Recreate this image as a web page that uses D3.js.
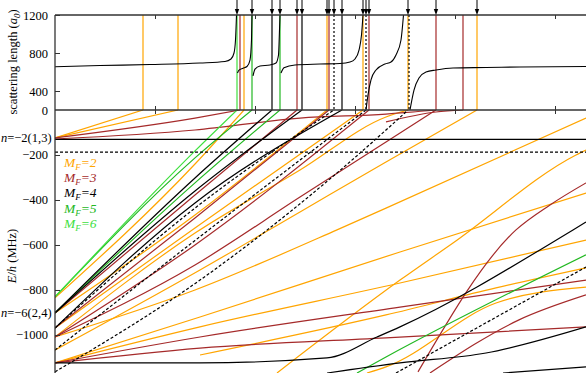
<!DOCTYPE html>
<html>
<head>
<meta charset="utf-8">
<script src="https://cdn.jsdelivr.net/npm/d3@7"></script>
<style>
  body { margin: 0; background: #fff; }
  svg { display: block; font-family: "Liberation Serif", "DejaVu Serif", serif; }
</style>
</head>
<body>
<svg id="chart" width="586" height="373"></svg>
<script>
// ticks
const fieldTicks = [100, 200, 300, 400, 500];
const lengthTicks = [400, 800, 1200];
const energyTicks = [0, -200, -400, -600, -800, -1000];

// resonance fields (G) and their M_F, top panel
const resField  = [88, 123, 182, 185, 189, 197, 217, 225, 242, 247, 272, 274, 279, 287, 308, 311, 314, 353, 354, 381, 408, 422];
const resMF     = [2, 2, 6, 3, 2, 5, 4, 5, 3, 4, 2, 3, 4, 4, 2, 4, 3, 2, 4, 3, 3, 2];
const resDotted = [0, 0, 0, 0, 0, 0, 0, 0, 0, 0, 0, 0, 1, 0, 0, 1, 0, 0, 1, 0, 0, 0];
const arrowField = [182, 197, 217, 225, 242, 247, 272, 274, 279, 287, 308, 311, 314, 353, 381, 422];

// scattering length (a0) vs field, one array per branch between poles
const scatLen = [
  [[0, 656], [45, 668], [95, 679], [145, 695], [170, 711], [176, 737], [179, 800], [180.5, 937], [181.5, 1200]],
  [[182.5, 590], [184, 620], [188, 640], [192, 658], [195, 726], [196.5, 937], [197, 1200]],
  [[198, 560], [200, 630], [205, 663], [215, 674], [221, 695], [223.5, 779], [224.5, 1042], [225, 1200]],
  [[226, 590], [229, 645], [240, 674], [265, 684], [285, 690], [295, 705], [300, 737], [304, 831], [306.5, 989], [308, 1200]],
  [[311, 200], [313, 358], [316, 516], [321, 621], [330, 684], [336, 705], [341, 779], [346, 937], [348.5, 1200]],
  [[355, 200], [359, 410], [364, 537], [371, 600], [381, 621], [398, 642], [431, 647], [465, 653], [531, 658]]
];

// bound-state energies E/h (MHz) vs field (G)
const levelsMF2 = [
  [[0, -124], [88, 0]],
  [[0, -124], [123, 0]],
  [[0, -835], [140, -240], [189, 0]],
  [[0, -902], [140, -467], [272, 0]],
  [[0, -969], [140, -524], [308, 0]],
  [[0, -1009], [140, -547], [245, -267], [331, -31], [353, 0]],
  [[0, -1067], [145, -711], [245, -453], [331, -231], [422, 0]],
  [[0, -1009], [140, -800], [282, -533], [331, -436], [531, -36]],
  [[0, -1124], [145, -920], [345, -631], [531, -369]],
  [[0, -1124], [145, -964], [345, -769], [531, -578]],
  [[222, -1169], [345, -756], [398, -591], [521, -200], [531, -178]],
  [[312, -1169], [331, -1142], [441, -858], [531, -787]],
  [[145, -1089], [331, -911], [441, -791], [531, -702]]
];
const levelsMF3 = [
  [[0, -124], [140, -36], [185, 0]],
  [[0, -129], [140, -89], [245, -36], [331, -18], [381, 0]],
  [[0, -902], [140, -378], [242, 0]],
  [[0, -969], [140, -480], [274, 0]],
  [[0, -1009], [140, -600], [314, 0]],
  [[0, -1009], [140, -689], [245, -387], [331, -142], [381, 0]],
  [[0, -1124], [145, -1009], [345, -876], [531, -756]],
  [[0, -1124], [145, -1058], [331, -1013], [531, -964]],
  [[375, -1169], [464, -933], [531, -822]],
  [[363, -1164], [461, -533], [495, -422], [531, -324]],
  [[331, -53], [381, -9], [408, 0]]
];
const levelsMF4 = [
  [[0, -131], [531, -131]],
  [[0, -902], [140, -302], [217, 0]],
  [[0, -902], [140, -360], [247, 0]],
  [[0, -969], [140, -413], [287, 0]],
  [[0, -1124], [145, -1124], [272, -1102], [322, -1009], [345, -964], [518, -533], [531, -498]],
  [[272, -1169], [345, -1124], [431, -1080], [531, -964]],
  [[448, -1169], [531, -1142]]
];
const levelsMF4dashed = [
  [[0, -187], [531, -187]],
  [[0, -969], [140, -436], [279, 0]],
  [[0, -1067], [140, -580], [311, 0]],
  [[0, -1164], [145, -756], [331, -89], [353, 0]],
  [[341, -1169], [531, -698]]
];
const levelsMF5 = [
  [[0, -831], [140, -213], [197, 0]],
  [[0, -902], [140, -324], [225, 0]],
  [[302, -1169], [331, -1098], [531, -644]]
];
const levelsMF6 = [
  [[0, -831], [140, -182], [182, 0]]
];

const mfColor = { 2: '#ffa500', 3: '#a52a2a', 4: '#000000', 5: '#22b822', 6: '#3ee03e' };
const legendMF = [2, 3, 4, 5, 6];

const svg = d3.select('#chart');
const x = d3.scaleLinear().domain([0, 531]).range([55, 586]);
const yTop = d3.scaleLinear().domain([200, 1200]).range([110, 15]);
const yLow = d3.scaleLinear().domain([-1169, 0]).range([373, 110]);

const defs = svg.append('defs');
defs.append('clipPath').attr('id', 'clipTop')
  .append('rect').attr('x', 55).attr('y', 15).attr('width', 531).attr('height', 95);
defs.append('clipPath').attr('id', 'clipLow')
  .append('rect').attr('x', 55).attr('y', 110).attr('width', 531).attr('height', 263);

// top panel: resonance lines and scattering length
const topPanel = svg.append('g').attr('clip-path', 'url(#clipTop)');
topPanel.selectAll('line.res')
  .data(resField)
  .enter()
  .append('line')
  .attr('class', 'res')
  .attr('x1', d => x(d)).attr('x2', d => x(d))
  .attr('y1', yTop(1200)).attr('y2', yTop(200))
  .attr('stroke', (d, i) => mfColor[resMF[i]])
  .attr('stroke-width', 1.2)
  .attr('stroke-dasharray', (d, i) => resDotted[i] ? '2,2' : null);

const lineTop = d3.line().x(d => x(d[0])).y(d => yTop(d[1])).curve(d3.curveMonotoneX);
topPanel.selectAll('path.scat')
  .data(scatLen)
  .enter()
  .append('path')
  .attr('class', 'scat')
  .attr('d', lineTop)
  .attr('fill', 'none')
  .attr('stroke', '#000')
  .attr('stroke-width', 1.1);

// lower panel: bound states
const lowPanel = svg.append('g').attr('clip-path', 'url(#clipLow)');
const lineLow = d3.line().x(d => x(d[0])).y(d => yLow(d[1])).curve(d3.curveMonotoneX);

function drawLevels(levels, color, dash) {
  lowPanel.append('g')
    .selectAll('path')
    .data(levels)
    .enter()
    .append('path')
    .attr('d', lineLow)
    .attr('fill', 'none')
    .attr('stroke', color)
    .attr('stroke-width', 1.2)
    .attr('stroke-dasharray', dash);
}
drawLevels(levelsMF2, mfColor[2], null);
drawLevels(levelsMF3, mfColor[3], null);
drawLevels(levelsMF5, mfColor[5], null);
drawLevels(levelsMF6, mfColor[6], null);
drawLevels(levelsMF4, mfColor[4], null);
drawLevels(levelsMF4dashed, mfColor[4], '3,2');

// frames
const frame = svg.append('g').attr('stroke', '#333').attr('stroke-width', 1.3);
frame.append('line').attr('x1', 55).attr('x2', 586).attr('y1', yTop(1200)).attr('y2', yTop(1200));
frame.append('line').attr('x1', 55).attr('x2', 586).attr('y1', yLow(0)).attr('y2', yLow(0));
frame.append('line').attr('x1', 55).attr('x2', 55).attr('y1', yTop(1200)).attr('y2', 373);

// axes with inward ticks
svg.append('g')
  .attr('transform', 'translate(0,' + yTop(1200) + ')')
  .call(d3.axisBottom(x).tickValues(fieldTicks).tickSize(4).tickFormat(''))
  .call(g => g.select('.domain').remove());
svg.append('g')
  .attr('transform', 'translate(0,' + yTop(200) + ')')
  .call(d3.axisTop(x).tickValues(fieldTicks).tickSize(4).tickFormat(''))
  .call(g => g.select('.domain').remove());
svg.append('g')
  .attr('transform', 'translate(0,' + yLow(0) + ')')
  .call(d3.axisBottom(x).tickValues(fieldTicks).tickSize(4).tickFormat(''))
  .call(g => g.select('.domain').remove());

const fmt = d => d < 0 ? '\u2212' + Math.abs(d) : String(d);
const axTop = svg.append('g')
  .attr('transform', 'translate(55,0)')
  .call(d3.axisRight(yTop).tickValues(lengthTicks).tickSize(5).tickFormat(''));
axTop.select('.domain').remove();
const axLow = svg.append('g')
  .attr('transform', 'translate(55,0)')
  .call(d3.axisRight(yLow).tickValues(energyTicks.slice(1)).tickSize(5).tickFormat(''));
axLow.select('.domain').remove();
svg.selectAll('.tick line').attr('stroke', '#333');

const labels = svg.append('g')
  .attr('font-size', 12.5)
  .attr('text-anchor', 'end')
  .attr('fill', '#000');
labels.selectAll('text.lt')
  .data(lengthTicks)
  .enter()
  .append('text')
  .attr('x', 48)
  .attr('y', d => yTop(d) + 4.5)
  .text(fmt);
labels.selectAll('text.et')
  .data(energyTicks)
  .enter()
  .append('text')
  .attr('x', 48)
  .attr('y', d => yLow(d) + 4.5)
  .text(fmt);

// axis titles
const t1 = svg.append('text')
  .attr('transform', 'translate(17,62) rotate(-90)')
  .attr('text-anchor', 'middle')
  .attr('font-size', 12.5);
t1.append('tspan').text('scattering length (');
t1.append('tspan').attr('font-style', 'italic').text('a');
t1.append('tspan').attr('font-size', 9).attr('dy', 3).attr('font-style', 'italic').text('0');
t1.append('tspan').attr('dy', -3).text(')');

const t2 = svg.append('text')
  .attr('transform', 'translate(16,256) rotate(-90)')
  .attr('text-anchor', 'middle')
  .attr('font-size', 12.5);
t2.append('tspan').attr('font-style', 'italic').text('E');
t2.append('tspan').text('/');
t2.append('tspan').attr('font-style', 'italic').text('h');
t2.append('tspan').text(' (MHz)');

// threshold labels
function threshold(label, e) {
  const t = svg.append('text')
    .attr('x', 1)
    .attr('y', yLow(e) + 4)
    .attr('font-size', 12.5);
  t.append('tspan').attr('font-style', 'italic').text('n');
  t.append('tspan').text(label);
}
threshold('=\u22122(1,3)', -124);
threshold('=\u22126(2,4)', -902);

// legend
const legend = svg.append('g').attr('font-size', 13.5).attr('font-style', 'italic');
legendMF.forEach((mf, i) => {
  const t = legend.append('text')
    .attr('x', 64)
    .attr('y', 167 + i * 15.2)
    .attr('fill', mfColor[mf]);
  t.append('tspan').text('M');
  t.append('tspan').attr('font-size', 9).attr('dy', 3).text('F');
  t.append('tspan').attr('dy', -3).text('=' + mf);
});

// resonance arrows above the top panel
const arrows = svg.append('g').attr('stroke', '#000').attr('fill', '#000');
arrows.selectAll('line')
  .data(arrowField)
  .enter()
  .append('line')
  .attr('x1', d => x(d)).attr('x2', d => x(d))
  .attr('y1', 0).attr('y2', 11)
  .attr('stroke-width', 1);
arrows.selectAll('path')
  .data(arrowField)
  .enter()
  .append('path')
  .attr('stroke', 'none')
  .attr('d', d => 'M' + (x(d) - 2.2) + ',9 L' + (x(d) + 2.2) + ',9 L' + x(d) + ',15 Z');
</script>
</body>
</html>
